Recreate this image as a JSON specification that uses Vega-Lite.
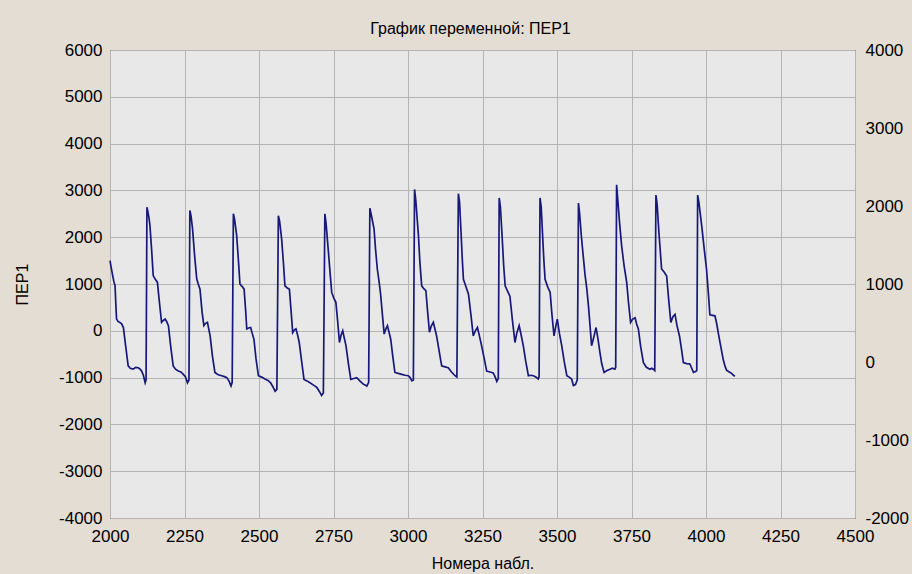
{
  "$schema": "https://vega.github.io/schema/vega-lite/v6.json",
  "width": 745,
  "height": 468,
  "autosize": {"type": "none"},
  "padding": {"left": 110, "top": 50, "right": 57, "bottom": 56},
  "background": "#e4ddd3",
  "config": {
    "font": "Liberation Sans",
    "view": {"fill": "#e8e8e8", "stroke": "#000000", "strokeWidth": 1},
    "axis": {"labelFontSize": 17, "labelColor": "#000000", "titleFontSize": 16, "titleFontWeight": "normal", "titleColor": "#000000", "domain": false, "ticks": false, "gridColor": "#b4b4b4", "gridWidth": 1, "gridOpacity": 1}
  },
  "title": {"text": "График переменной: ПЕР1", "fontSize": 16, "fontWeight": "normal", "color": "#000000", "offset": 4, "dx": -12},
  "data": {"values": [
    {"n":2000,"v":1500},{"n":2004,"v":1350},{"n":2009,"v":1180},{"n":2013,"v":1050},{"n":2017,"v":960},{"n":2020,"v":500},{"n":2022,"v":250},{"n":2027,"v":200},{"n":2033,"v":180},{"n":2039,"v":150},{"n":2045,"v":70},{"n":2053,"v":-350},{"n":2061,"v":-750},{"n":2068,"v":-800},{"n":2078,"v":-820},{"n":2086,"v":-780},{"n":2095,"v":-790},{"n":2101,"v":-820},{"n":2106,"v":-860},{"n":2112,"v":-950},{"n":2118,"v":-1110},{"n":2121,"v":-1050},
    {"n":2124,"v":2640},{"n":2127,"v":2550},
    {"n":2131,"v":2400},{"n":2134,"v":2250},{"n":2140,"v":1700},{"n":2145,"v":1180},{"n":2152,"v":1100},{"n":2159,"v":1040},{"n":2166,"v":600},{"n":2173,"v":180},{"n":2179,"v":220},{"n":2185,"v":250},{"n":2190,"v":200},{"n":2196,"v":110},{"n":2204,"v":-350},{"n":2212,"v":-750},{"n":2220,"v":-820},{"n":2229,"v":-860},{"n":2238,"v":-880},{"n":2246,"v":-930},{"n":2253,"v":-980},{"n":2260,"v":-1110},{"n":2265,"v":-1050},{"n":2268,"v":2570},
    {"n":2272,"v":2450},{"n":2277,"v":2180},{"n":2284,"v":1600},{"n":2291,"v":1110},{"n":2296,"v":1000},{"n":2302,"v":890},{"n":2309,"v":400},{"n":2315,"v":110},{"n":2321,"v":160},{"n":2327,"v":180},{"n":2331,"v":50},{"n":2336,"v":-110},{"n":2344,"v":-550},{"n":2352,"v":-890},{"n":2363,"v":-940},{"n":2375,"v":-960},{"n":2384,"v":-980},{"n":2392,"v":-1000},{"n":2400,"v":-1080},{"n":2406,"v":-1180},{"n":2410,"v":-1100},{"n":2414,"v":2500},
    {"n":2418,"v":2380},{"n":2425,"v":2040},{"n":2431,"v":1500},{"n":2436,"v":1000},{"n":2443,"v":950},{"n":2450,"v":890},{"n":2455,"v":450},{"n":2459,"v":40},{"n":2465,"v":60},{"n":2472,"v":70},{"n":2477,"v":-50},{"n":2483,"v":-180},{"n":2490,"v":-600},{"n":2498,"v":-960},{"n":2509,"v":-990},{"n":2520,"v":-1030},{"n":2530,"v":-1060},{"n":2539,"v":-1110},{"n":2547,"v":-1200},{"n":2554,"v":-1290},{"n":2560,"v":-1250},{"n":2565,"v":2460},
    {"n":2569,"v":2350},{"n":2576,"v":1960},{"n":2582,"v":1450},{"n":2587,"v":960},{"n":2594,"v":920},{"n":2602,"v":890},{"n":2608,"v":400},{"n":2613,"v":-40},{"n":2619,"v":20},{"n":2624,"v":40},{"n":2630,"v":-100},{"n":2635,"v":-250},{"n":2643,"v":-650},{"n":2651,"v":-1040},{"n":2661,"v":-1070},{"n":2671,"v":-1110},{"n":2683,"v":-1160},{"n":2694,"v":-1210},{"n":2702,"v":-1290},{"n":2710,"v":-1380},{"n":2716,"v":-1330},{"n":2721,"v":2500},
    {"n":2725,"v":2300},{"n":2733,"v":1680},{"n":2739,"v":1200},{"n":2744,"v":820},{"n":2751,"v":700},{"n":2758,"v":610},{"n":2764,"v":200},{"n":2770,"v":-250},{"n":2775,"v":-100},{"n":2781,"v":0},{"n":2786,"v":-150},{"n":2792,"v":-320},{"n":2800,"v":-700},{"n":2808,"v":-1040},{"n":2818,"v":-1020},{"n":2828,"v":-1000},{"n":2840,"v":-1080},{"n":2850,"v":-1140},{"n":2856,"v":-1160},{"n":2862,"v":-1180},{"n":2868,"v":-1100},{"n":2872,"v":2620},
    {"n":2876,"v":2500},{"n":2886,"v":2180},{"n":2891,"v":1750},{"n":2897,"v":1320},{"n":2903,"v":1050},{"n":2908,"v":790},{"n":2914,"v":350},{"n":2920,"v":-70},{"n":2925,"v":30},{"n":2931,"v":110},{"n":2936,"v":-20},{"n":2942,"v":-180},{"n":2949,"v":-550},{"n":2956,"v":-890},{"n":2967,"v":-910},{"n":2979,"v":-930},{"n":2990,"v":-950},{"n":3001,"v":-960},{"n":3007,"v":-1000},{"n":3013,"v":-1070},{"n":3018,"v":-1050},{"n":3022,"v":3020},
    {"n":3026,"v":2800},{"n":3035,"v":2040},{"n":3040,"v":1450},{"n":3046,"v":960},{"n":3053,"v":900},{"n":3060,"v":860},{"n":3066,"v":400},{"n":3072,"v":-30},{"n":3078,"v":100},{"n":3085,"v":180},{"n":3090,"v":50},{"n":3096,"v":-110},{"n":3105,"v":-450},{"n":3113,"v":-750},{"n":3124,"v":-770},{"n":3135,"v":-790},{"n":3146,"v":-880},{"n":3158,"v":-960},{"n":3164,"v":-990},{"n":3169,"v":2930},
    {"n":3173,"v":2750},{"n":3178,"v":2100},{"n":3182,"v":1550},{"n":3186,"v":1100},{"n":3194,"v":950},{"n":3203,"v":780},{"n":3211,"v":350},{"n":3219,"v":-110},{"n":3226,"v":0},{"n":3233,"v":70},{"n":3240,"v":-120},{"n":3247,"v":-320},{"n":3256,"v":-600},{"n":3264,"v":-860},{"n":3275,"v":-880},{"n":3286,"v":-900},{"n":3292,"v":-980},{"n":3298,"v":-1080},{"n":3303,"v":-1020},{"n":3306,"v":2840},
    {"n":3310,"v":2650},{"n":3316,"v":2000},{"n":3321,"v":1400},{"n":3326,"v":960},{"n":3334,"v":850},{"n":3342,"v":740},{"n":3350,"v":250},{"n":3359,"v":-250},{"n":3365,"v":-50},{"n":3373,"v":110},{"n":3380,"v":-100},{"n":3387,"v":-320},{"n":3395,"v":-650},{"n":3404,"v":-960},{"n":3412,"v":-950},{"n":3421,"v":-960},{"n":3430,"v":-990},{"n":3437,"v":-1030},{"n":3440,"v":-980},{"n":3443,"v":2840},
    {"n":3447,"v":2650},{"n":3452,"v":2000},{"n":3456,"v":1500},{"n":3460,"v":1100},{"n":3468,"v":950},{"n":3477,"v":820},{"n":3483,"v":350},{"n":3490,"v":-110},{"n":3496,"v":100},{"n":3501,"v":250},{"n":3508,"v":-50},{"n":3516,"v":-320},{"n":3524,"v":-650},{"n":3533,"v":-960},{"n":3541,"v":-990},{"n":3549,"v":-1030},{"n":3555,"v":-1170},{"n":3562,"v":-1150},{"n":3568,"v":-1050},{"n":3572,"v":2730},
    {"n":3576,"v":2500},{"n":3582,"v":2000},{"n":3588,"v":1600},{"n":3594,"v":1200},{"n":3600,"v":900},{"n":3606,"v":500},{"n":3611,"v":100},{"n":3616,"v":-320},{"n":3623,"v":-150},{"n":3631,"v":70},{"n":3637,"v":-150},{"n":3644,"v":-460},{"n":3650,"v":-700},{"n":3658,"v":-890},{"n":3668,"v":-850},{"n":3678,"v":-820},{"n":3686,"v":-800},{"n":3694,"v":-820},{"n":3697,"v":-780},{"n":3700,"v":3120},
    {"n":3704,"v":2800},{"n":3710,"v":2300},{"n":3717,"v":1810},{"n":3725,"v":1400},{"n":3734,"v":1030},{"n":3740,"v":600},{"n":3747,"v":180},{"n":3754,"v":250},{"n":3762,"v":280},{"n":3767,"v":150},{"n":3773,"v":40},{"n":3781,"v":-350},{"n":3790,"v":-680},{"n":3800,"v":-780},{"n":3812,"v":-820},{"n":3818,"v":-800},{"n":3823,"v":-820},{"n":3828,"v":-850},{"n":3832,"v":2900},
    {"n":3836,"v":2700},{"n":3842,"v":2100},{"n":3851,"v":1320},{"n":3860,"v":1250},{"n":3868,"v":1170},{"n":3875,"v":650},{"n":3882,"v":180},{"n":3889,"v":300},{"n":3896,"v":350},{"n":3903,"v":100},{"n":3911,"v":-110},{"n":3918,"v":-400},{"n":3924,"v":-680},{"n":3935,"v":-700},{"n":3946,"v":-710},{"n":3952,"v":-800},{"n":3958,"v":-890},{"n":3965,"v":-870},{"n":3969,"v":-850},{"n":3972,"v":2900},
    {"n":3976,"v":2750},{"n":3986,"v":2220},{"n":3994,"v":1750},{"n":4002,"v":1300},{"n":4008,"v":800},{"n":4013,"v":340},{"n":4022,"v":330},{"n":4030,"v":320},{"n":4036,"v":150},{"n":4041,"v":-40},{"n":4050,"v":-350},{"n":4058,"v":-620},{"n":4064,"v":-760},{"n":4069,"v":-840},{"n":4078,"v":-880},{"n":4086,"v":-910},{"n":4092,"v":-950},{"n":4097,"v":-970}
  ]},
  "encoding": {
    "x": {"field": "n", "type": "quantitative", "scale": {"domain": [2000, 4500], "nice": false, "zero": false},
      "axis": {"title": "Номера набл.", "values": [2000,2250,2500,2750,3000,3250,3500,3750,4000,4250,4500], "labelExpr": "'' + datum.value", "labelPadding": 10, "titlePadding": 11, "labelFlush": false}}
  },
  "layer": [
    {
      "mark": {"type": "line", "color": "#18187a", "strokeWidth": 1.7, "interpolate": "linear"},
      "encoding": {
        "y": {"field": "v", "type": "quantitative", "scale": {"domain": [-4000, 6000], "nice": false, "zero": false},
          "axis": {"title": "ПЕР1", "values": [-4000,-3000,-2000,-1000,0,1000,2000,3000,4000,5000,6000], "labelExpr": "'' + datum.value", "labelPadding": 8, "titlePadding": 28, "labelFlush": false}}
      }
    },
    {
      "mark": {"type": "line", "strokeOpacity": 0},
      "encoding": {
        "y": {"field": "v", "type": "quantitative", "scale": {"domain": [-2000, 4000], "nice": false, "zero": false},
          "axis": {"orient": "right", "title": null, "grid": false, "values": [-2000,-1000,0,1000,2000,3000,4000], "labelExpr": "'' + datum.value", "labelPadding": 10, "labelFlush": false}}
      }
    }
  ],
  "resolve": {"scale": {"y": "independent"}}
}
